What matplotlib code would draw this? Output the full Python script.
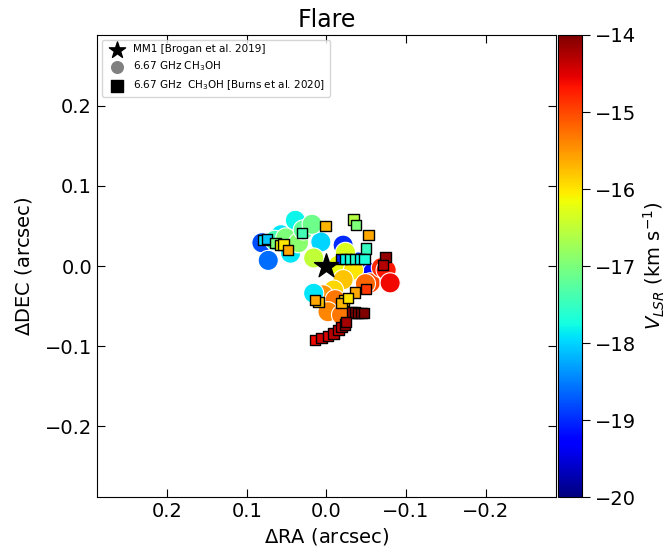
import numpy as np
import matplotlib
matplotlib.use('Agg')
import matplotlib.pyplot as plt

# maser spots (this work), offsets in arcsec and vlsr in km/s
ra_c = [0.081, 0.073, 0.039, 0.057, 0.045, 0.007, 0.065, 0.051, 0.035, 0.029, 0.018, 0.016,
        -0.021, -0.040, -0.050, -0.058, -0.024, -0.015, -0.034, -0.021, -0.009, 0.004,
        -0.011, -0.002, 0.016, -0.055, -0.049, -0.069, -0.075, -0.080, -0.019]
dec_c = [0.029, 0.007, 0.057, 0.039, 0.016, 0.030, 0.032, 0.035, 0.029, 0.045, 0.052, 0.010,
         0.026, 0.005, -0.005, -0.008, 0.017, 0.001, -0.005, -0.017, -0.030, -0.036,
         -0.042, -0.057, -0.034, -0.021, -0.022, -0.002, -0.005, -0.021, -0.061]
v_c = [-18.8, -18.6, -17.8, -17.9, -17.9, -18.0, -17.4, -17.0, -16.9, -17.2, -17.1, -16.5,
       -19.0, -19.0, -18.8, -19.2, -16.3, -16.2, -16.0, -15.8, -15.9, -15.5,
       -15.3, -15.4, -17.9, -15.0, -15.2, -14.8, -14.7, -14.6, -15.3]

# Burns et al. 2020 spots
ra_s = [0.079, 0.075, 0.064, 0.058, 0.054, 0.048, 0.031, 0.001,
        -0.034, -0.037, -0.053, -0.050,
        -0.019, -0.024, -0.030, -0.036, -0.042, -0.048,
        -0.074, -0.071,
        -0.036, -0.050, -0.022, -0.019, -0.027, 0.010, 0.014,
        -0.032, -0.036, -0.040, -0.044, -0.047,
        0.014, 0.006, -0.002, -0.009, -0.015, -0.019, -0.023, -0.025]
dec_s = [0.032, 0.034, 0.029, 0.026, 0.027, 0.020, 0.041, 0.050,
         0.058, 0.051, 0.039, 0.022,
         0.009, 0.009, 0.009, 0.009, 0.009, 0.009,
         0.011, 0.001,
         -0.033, -0.029, -0.043, -0.046, -0.040, -0.045, -0.042,
         -0.058, -0.058, -0.059, -0.059, -0.059,
         -0.092, -0.090, -0.087, -0.084, -0.080, -0.076, -0.073, -0.070]
v_s = [-17.9, -18.1, -17.0, -16.1, -16.0, -15.6, -17.4, -15.7,
       -16.6, -17.0, -15.6, -17.5,
       -19.0, -17.8, -17.7, -17.6, -17.8, -17.7,
       -14.1, -14.3,
       -15.6, -14.9, -15.9, -15.7, -16.0, -15.8, -15.6,
       -14.1, -14.0, -14.1, -14.0, -14.0,
       -14.6, -14.4, -14.5, -14.3, -14.4, -14.3, -14.2, -14.2]

vmin, vmax = -20, -14
lim = 0.288

fig = plt.figure(figsize=(6.66, 5.52), dpi=100)
ax = fig.add_axes([0.1456, 0.0996, 0.689, 0.837])
cax = fig.add_axes([0.8378, 0.0996, 0.036, 0.837])

sc = ax.scatter(ra_c, dec_c, c=v_c, cmap='jet', vmin=vmin, vmax=vmax, s=210,
                edgecolors='white', linewidths=0.8, zorder=2)
ax.scatter(ra_s, dec_s, c=v_s, cmap='jet', vmin=vmin, vmax=vmax, s=55, marker='s',
           edgecolors='black', linewidths=1.0, zorder=3)
ax.scatter([0], [0], marker='*', s=330, color='black', zorder=4)

# legend handles
ax.scatter([], [], marker='*', s=150, color='black', label='MM1 [Brogan et al. 2019]')
ax.scatter([], [], marker='o', s=70, color='gray', label='6.67 GHz CH$_3$OH')
ax.scatter([], [], marker='s', s=70, color='black', label='6.67 GHz  CH$_3$OH [Burns et al. 2020]')
h, l = ax.get_legend_handles_labels()
ax.legend(h, l, loc='upper left', fontsize=7.5, handletextpad=0.6, borderpad=0.4,
          labelspacing=0.5, bbox_to_anchor=(0.0, 1.0))

ax.set_xlim(lim, -lim)
ax.set_ylim(-lim, lim)
ax.set_xticks([0.2, 0.1, 0.0, -0.1, -0.2])
ax.set_yticks([0.2, 0.1, 0.0, -0.1, -0.2])
ax.tick_params(direction='in', top=True, right=True, labelsize=14, length=6)
ax.set_xlabel(r'$\Delta$RA (arcsec)', fontsize=14)
ax.set_ylabel(r'$\Delta$DEC (arcsec)', fontsize=14, labelpad=8)
ax.set_title('Flare', fontsize=17)

cb = fig.colorbar(sc, cax=cax)
cb.set_ticks([-20, -19, -18, -17, -16, -15, -14])
cb.ax.tick_params(labelsize=14, length=6)
cb.set_label(r'$V_{LSR}$ (km s$^{-1}$)', fontsize=14)

fig.savefig('out.png', dpi=100)
